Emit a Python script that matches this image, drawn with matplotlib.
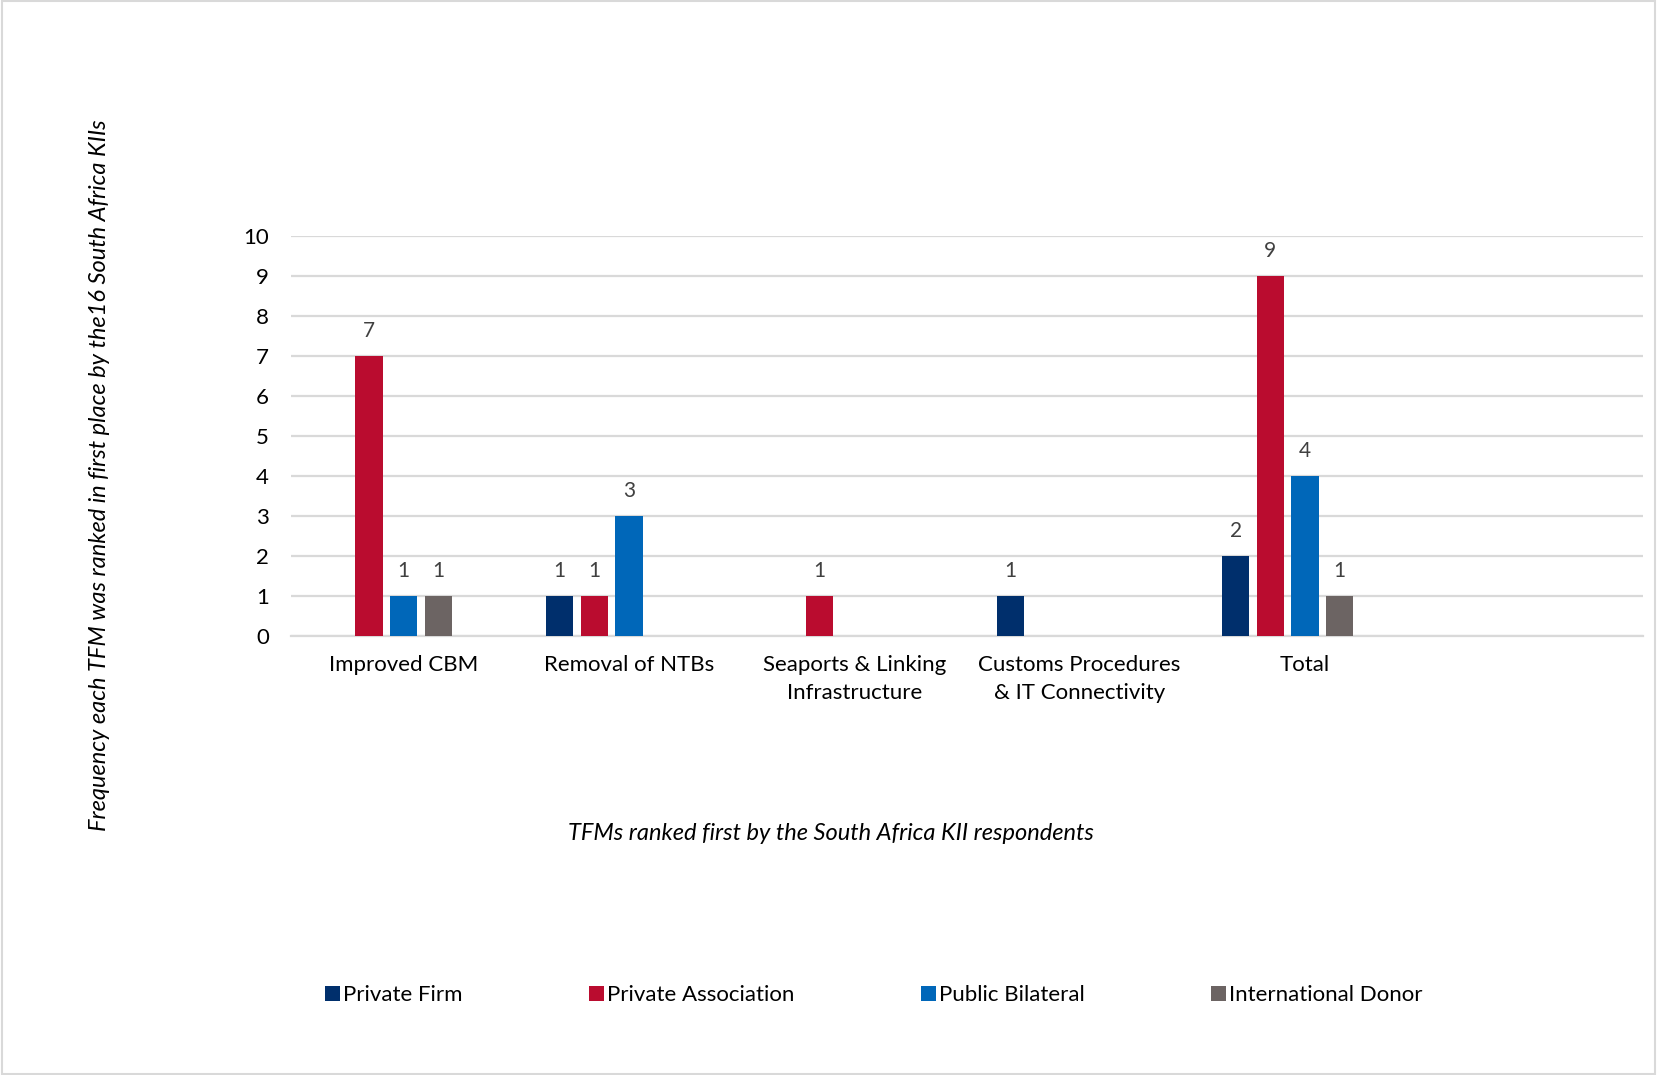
import matplotlib.pyplot as plt
import numpy as np
from matplotlib.patches import Rectangle

# TFM categories and counts per respondent type
categories = ["Improved CBM", "Removal of NTBs", "Seaports & Linking\nInfrastructure",
              "Customs Procedures\n& IT Connectivity", "Total"]
series_names = ["Private Firm", "Private Association", "Public Bilateral", "International Donor"]
private_firm = [0, 1, 0, 1, 2]
private_association = [7, 1, 1, 0, 9]
public_bilateral = [1, 3, 0, 0, 4]
international_donor = [1, 0, 0, 0, 1]
yticks = list(range(0, 11))

colors = ["#002F6C", "#BA0C2F", "#0067B9", "#6C6463"]
values = [private_firm, private_association, public_bilateral, international_donor]

plt.rcParams['font.family'] = ['Lato', 'DejaVu Sans']

fig = plt.figure(figsize=(16.57, 10.75), dpi=100)
ax = fig.add_axes([291/1657, 1 - 636/1075, (1643 - 291)/1657, 400/1075])

x = np.arange(len(categories))
slot = 0.154
width = 0.122
for i, (name, vals, c) in enumerate(zip(series_names, values, colors)):
    pos = x + (i - 2) * slot
    ax.bar(pos, vals, width=width, color=c, label=name, zorder=3)
    for px, v in zip(pos, vals):
        if v > 0:
            ax.annotate(str(v), (px, v), xytext=(0, 11), textcoords="offset points",
                        ha="center", va="bottom", fontsize=15, color="#404040")

ax.set_xlim(-0.5, len(categories) + 0.5)
ax.set_ylim(0, 10)
ax.set_yticks(yticks)
ax.set_xticks(x)
ax.set_xticklabels(categories, fontsize=16, linespacing=1.45)
ax.tick_params(axis="y", length=0, pad=16, labelsize=16)
ax.tick_params(axis="x", length=0, pad=14)
ax.grid(axis="y", color="#D9D9D9", linewidth=1.6, zorder=0)
for s in ["top", "right", "left"]:
    ax.spines[s].set_visible(False)
ax.spines["bottom"].set_color("#D9D9D9")
ax.spines["bottom"].set_linewidth(1.6)

fig.text(100/1657, 1 - 475/1075,
         "Frequency each TFM was ranked in first place by the16 South Africa KIIs",
         rotation=90, ha="center", va="center", fontsize=17, style="italic")
fig.text(831/1657, 1 - 833/1075, "TFMs ranked first by the South Africa KII respondents",
         ha="center", va="center", fontsize=17, style="italic")

fig.legend(loc="center", bbox_to_anchor=(874/1657, 1 - 995/1075), ncol=4, frameon=False,
           fontsize=16, handlelength=0.65, handleheight=0.65, handletextpad=0.15,
           columnspacing=5.7)

fig.patches.append(Rectangle((0.001, 0.001), 0.998, 0.998, transform=fig.transFigure,
                             fill=False, edgecolor="#D9D9D9", linewidth=1.5))

fig.savefig("out.png", dpi=100)
